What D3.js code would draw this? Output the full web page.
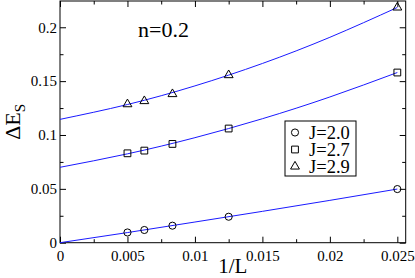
<!DOCTYPE html>
<html lang="en">
<head>
<meta charset="UTF-8">
<title>Delta E_S vs 1/L</title>
<script src="https://d3js.org/d3.v7.min.js"></script>
<style>
  body { margin: 0; background: #fff; }
  svg text { font-family: "Liberation Serif", "Times New Roman", serif; fill: #000; }
</style>
</head>
<body>
<div id="chart"></div>
<script>
// data points (1/L for L = 200, 160, 120, 80, 40)
const invL = [1/200, 1/160, 1/120, 1/80, 1/40];
const seriesLabels = ["J=2.0", "J=2.7", "J=2.9"];
const valsJ20 = [0.0095, 0.0118, 0.0158, 0.0241, 0.0498];
const valsJ27 = [0.083, 0.0855, 0.0917, 0.106, 0.158];
const valsJ29 = [0.1286, 0.1315, 0.138, 0.1556, 0.2184];

// fitted curves
const fitX = [0, 0.005, 0.01, 0.015, 0.02, 0.025];
const fitJ20 = [0, 0.0094, 0.0192, 0.0291, 0.0393, 0.0498];
const fitJ27 = [0.070, 0.0825, 0.0975, 0.1151, 0.1353, 0.158];
const fitJ29 = [0.1145, 0.1283, 0.1456, 0.1664, 0.1907, 0.2184];

const xMajor = [0, 0.005, 0.01, 0.015, 0.02, 0.025];
const xLabels = ["0", "0.005", "0.01", "0.015", "0.02", "0.025"];
const xMinor = [0.0025, 0.0075, 0.0125, 0.0175, 0.0225];
const yMajor = [0, 0.05, 0.1, 0.15, 0.2];
const yLabels = ["0", "0.05", "0.1", "0.15", "0.2"];
const yMinor = [0.025, 0.075, 0.125, 0.175];

const W = 415, H = 278;
const pLeft = 60, pRight = 405.7, pTop = 1, pBottom = 242.7;

const x = d3.scaleLinear().domain([0, 0.02562]).range([pLeft, pRight]);
const y = d3.scaleLinear().domain([0, 0.2244]).range([pBottom, pTop]);

const svg = d3.select("#chart").append("svg")
    .attr("width", W)
    .attr("height", H);

// axes: ticks point inward on all four sides
function tickAxis(axis, vals, size, labels) {
    axis.tickValues(vals).tickSizeInner(-size).tickSizeOuter(0).tickPadding(4);
    if (labels) axis.tickFormat((d, i) => labels[i]);
    else axis.tickFormat("");
    return axis;
}

const gx = svg.append("g").attr("transform", `translate(0,${pBottom})`);
gx.call(tickAxis(d3.axisBottom(x), xMajor, 6, xLabels));
gx.selectAll("text").style("font-size", "15px").attr("dy", "0.95em");
svg.append("g").attr("transform", `translate(0,${pBottom})`)
    .call(tickAxis(d3.axisBottom(x), xMinor, 3.5));
svg.append("g").attr("transform", `translate(0,${pTop})`)
    .call(tickAxis(d3.axisTop(x), xMajor, 6));
svg.append("g").attr("transform", `translate(0,${pTop})`)
    .call(tickAxis(d3.axisTop(x), xMinor, 3.5));

const gy = svg.append("g").attr("transform", `translate(${pLeft},0)`);
gy.call(tickAxis(d3.axisLeft(y), yMajor, 6, yLabels).tickPadding(3));
gy.selectAll("text").style("font-size", "15px");
svg.append("g").attr("transform", `translate(${pLeft},0)`)
    .call(tickAxis(d3.axisLeft(y), yMinor, 3.5));
svg.append("g").attr("transform", `translate(${pRight},0)`)
    .call(tickAxis(d3.axisRight(y), yMajor, 6));
svg.append("g").attr("transform", `translate(${pRight},0)`)
    .call(tickAxis(d3.axisRight(y), yMinor, 3.5));

svg.selectAll(".domain").remove();
svg.selectAll(".tick line").attr("stroke", "#000");

// frame
svg.append("rect")
    .attr("x", pLeft).attr("y", pTop)
    .attr("width", pRight - pLeft).attr("height", pBottom - pTop)
    .attr("fill", "none").attr("stroke", "#000").attr("stroke-width", 1);

// fit lines
const line = d3.line()
    .x(d => x(d[0]))
    .y(d => y(d[1]))
    .curve(d3.curveNatural);

[fitJ20, fitJ27, fitJ29].forEach(fit => {
    svg.append("path")
        .datum(fitX.map((v, i) => [v, fit[i]]))
        .attr("fill", "none")
        .attr("stroke", "#1a1aff")
        .attr("stroke-width", 1)
        .attr("d", line);
});

// markers
const shapes = [
    d3.symbol().type(d3.symbolCircle).size(40),
    d3.symbol().type(d3.symbolSquare).size(46),
    d3.symbol().type(d3.symbolTriangle).size(34)
];

[valsJ20, valsJ27, valsJ29].forEach((vals, s) => {
    svg.append("g").selectAll("path")
        .data(vals)
        .join("path")
        .attr("d", shapes[s]())
        .attr("transform", (d, i) => `translate(${x(invL[i])},${y(d)})`)
        .attr("fill", "none")
        .attr("stroke", "#000")
        .attr("stroke-width", 1);
});

// legend
const leg = svg.append("g");
leg.append("rect")
    .attr("x", 285).attr("y", 121).attr("width", 71).attr("height", 55)
    .attr("fill", "#fff").attr("stroke", "#000").attr("stroke-width", 1);
seriesLabels.forEach((lab, i) => {
    const cy = 132.5 + i * 17;
    leg.append("path")
        .attr("d", shapes[i]())
        .attr("transform", `translate(295,${cy})`)
        .attr("fill", "none").attr("stroke", "#000");
    leg.append("text")
        .attr("x", 309).attr("y", cy + 6)
        .style("font-size", "18.5px")
        .text(lab);
});

// annotation and axis titles
svg.append("text")
    .attr("x", 189).attr("y", 37)
    .attr("text-anchor", "end")
    .style("font-size", "22px")
    .text("n=0.2");

svg.append("text")
    .attr("x", (pLeft + pRight) / 2).attr("y", 273)
    .attr("text-anchor", "middle")
    .style("font-size", "21px")
    .text("1/L");

const yt = svg.append("text")
    .attr("transform", `translate(20,${(pTop + pBottom) / 2}) rotate(-90)`)
    .attr("text-anchor", "middle")
    .style("font-size", "22px");
yt.append("tspan").text("ΔE");
yt.append("tspan").attr("dy", 5).style("font-size", "15px").text("S");
</script>
</body>
</html>
